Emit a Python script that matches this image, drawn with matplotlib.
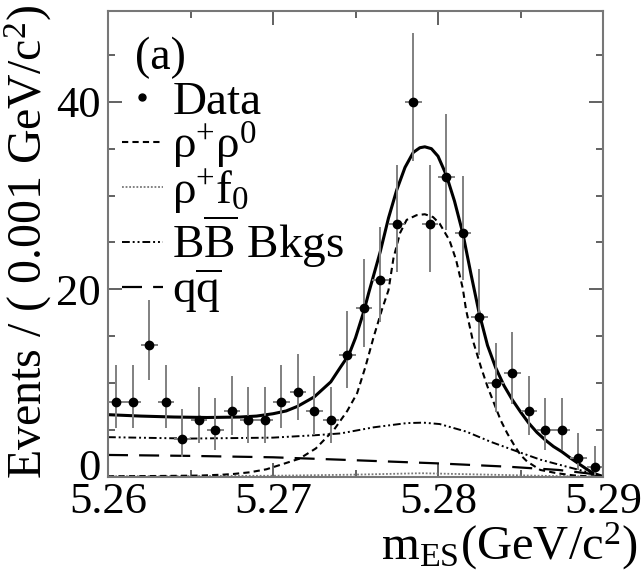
import matplotlib
matplotlib.use("Agg")
import matplotlib.pyplot as plt
import numpy as np
from matplotlib.lines import Line2D
from matplotlib.ticker import MultipleLocator
from matplotlib.transforms import ScaledTranslation

plt.rcParams['font.family'] = ['Liberation Serif', 'DejaVu Serif']
plt.rcParams['mathtext.fontset'] = 'custom'
plt.rcParams['mathtext.rm'] = 'Liberation Serif'
plt.rcParams['mathtext.it'] = 'Liberation Serif:italic'
plt.rcParams['mathtext.bf'] = 'Liberation Serif:bold'

# data histogram, 0.001 GeV bins from 5.26 to 5.29
bin_centers = np.arange(5.2605, 5.29, 0.001)
counts = [8, 8, 14, 8, 4, 6, 5, 7, 6, 6, 8, 9, 7, 6, 13,
          18, 21, 27, 40, 27, 32, 26, 17, 10, 11, 7, 5, 5, 2, 1]
err_lo = [2.77, 2.77, 3.68, 2.77, 1.91, 2.38, 2.16, 2.58, 2.38, 2.38, 2.77, 2.94, 2.58, 2.38, 3.55,
          4.18, 4.52, 5.16, 6.30, 5.16, 5.63, 5.06, 4.06, 3.11, 3.26, 2.58, 2.16, 2.16, 1.29, 0.83]
err_hi = [3.95, 3.95, 4.80, 3.95, 3.16, 3.58, 3.38, 3.77, 3.58, 3.58, 3.95, 4.11, 3.77, 3.58, 4.67,
          5.27, 5.59, 6.22, 7.38, 6.22, 6.70, 6.12, 5.16, 4.26, 4.40, 3.77, 3.38, 3.38, 2.64, 2.30]

# fit components
total_x = [5.2600, 5.2620, 5.2640, 5.2660, 5.2680, 5.2690, 5.2700, 5.2708, 5.2715, 5.2725,
           5.2735, 5.2741, 5.2746, 5.2750, 5.2755, 5.2758, 5.2765, 5.2770, 5.2775, 5.2780,
           5.2785, 5.2789, 5.2792, 5.2796, 5.2800, 5.2805, 5.2810, 5.2815, 5.2820, 5.2825,
           5.2830, 5.2835, 5.2840, 5.2845, 5.2850, 5.2855, 5.2860, 5.2865, 5.2870, 5.2875,
           5.2880, 5.2885, 5.2890, 5.2894, 5.2900]
total_y = [6.6, 6.45, 6.35, 6.3, 6.35, 6.45, 6.7, 7.0, 7.5, 8.5,
           10.1, 11.7, 13.0, 14.8, 17.6, 19.6, 24.0, 27.6, 30.6, 33.0,
           34.6, 35.1, 35.2, 35.0, 34.2, 32.2, 29.4, 26.0, 21.6, 17.4,
           14.0, 11.6, 9.7, 8.2, 6.9, 5.7, 4.7, 3.9, 3.2, 2.65,
           2.0, 1.4, 0.8, 0.35, 0.0]

sig_x = [5.2600, 5.2620, 5.2640, 5.2656, 5.2670, 5.2676, 5.2686, 5.2696, 5.2706, 5.2716,
         5.2726, 5.2737, 5.2745, 5.2751, 5.2756, 5.2761, 5.2766, 5.2770, 5.2773, 5.2777,
         5.2781, 5.2787, 5.2792, 5.2797, 5.2801, 5.2807, 5.2811, 5.2815, 5.2817, 5.2821,
         5.2826, 5.2830, 5.2834, 5.2838, 5.2842, 5.2846, 5.2850, 5.2854, 5.2862, 5.2872,
         5.2882, 5.2890, 5.2900]
sig_y = [0.02, 0.04, 0.07, 0.10, 0.20, 0.27, 0.45, 0.77, 1.33, 1.9,
         3.0, 5.0, 7.0, 8.9, 11.7, 14.9, 17.8, 19.9, 23.3, 26.0,
         27.4, 27.9, 28.0, 27.7, 27.0, 25.2, 23.1, 20.1, 17.8, 14.6,
         11.7, 9.6, 7.8, 6.0, 4.6, 3.4, 2.3, 1.6, 0.7, 0.35,
         0.12, 0.03, 0.0]

f0_x = [5.2600, 5.2700, 5.2750, 5.2790, 5.2830, 5.2870, 5.2900]
f0_y = [0.02, 0.08, 0.2, 0.35, 0.2, 0.05, 0.0]

bb_x = [5.2600, 5.2650, 5.2700, 5.2725, 5.2741, 5.2761, 5.2781, 5.2791, 5.2801, 5.2817,
        5.2832, 5.2846, 5.2862, 5.2878, 5.2890, 5.2900]
bb_y = [4.2, 4.05, 4.15, 4.4, 4.6, 5.25, 5.7, 5.75, 5.6, 4.8,
        3.7, 2.8, 1.8, 1.05, 0.5, 0.0]

qq_x = [5.2600, 5.2650, 5.2700, 5.2740, 5.2800, 5.2842, 5.2873, 5.2890, 5.2897, 5.2900]
qq_y = [2.3, 2.2, 2.05, 1.8, 1.4, 1.05, 0.7, 0.35, 0.18, 0.0]

legend_labels = ['Data', 'ρ$^{+}$ρ$^{0}$', 'ρ$^{+}$f$_{0}$',
                 r'B$\overline{\mathrm{B}}$ Bkgs', r'q$\overline{\mathrm{q}}$']

sig_ls = (0, (3, 2))
f0_ls = (0, (1, 1))
bb_ls = (0, (4, 1.5, 1, 1.5, 1, 1.5))
qq_ls = (0, (9, 5))

fig = plt.figure(figsize=(6.42, 5.75), dpi=100)
ax = fig.add_axes([108 / 642, 1 - 476.5 / 575, 495 / 642, 465.5 / 575])

ax.plot(qq_x, qq_y, color='black', lw=1.6, ls=qq_ls)
ax.plot(bb_x, bb_y, color='black', lw=1.4, ls=bb_ls)
ax.plot(f0_x, f0_y, color='#777777', lw=1.3, ls=f0_ls)
ax.plot(sig_x, sig_y, color='black', lw=1.5, ls=sig_ls)
ax.plot(total_x, total_y, color='black', lw=2.2)

ax.errorbar(bin_centers, counts, yerr=[err_lo, err_hi], xerr=0.0005,
            fmt='o', color='black', ms=6, ecolor='#808080', elinewidth=1.4, capsize=0, zorder=5)

ax.set_xlim(5.26, 5.29)
ax.set_ylim(0, 49.7)
ax.xaxis.set_minor_locator(MultipleLocator(0.005))
ax.yaxis.set_minor_locator(MultipleLocator(5))
ax.set_xticks([5.26, 5.27, 5.28, 5.29])
ax.set_xticklabels(['5.26', '5.27', '5.28', '5.29'])
ax.set_yticks([0, 20, 40])
ax.tick_params(which='both', direction='in', top=True, right=True,
               labelsize=32, width=1.3, color='#555555')
ax.tick_params(which='major', length=10)
ax.tick_params(which='minor', length=5)
ax.tick_params(axis='x', pad=4)
ax.tick_params(axis='y', pad=5)
# lift the "0" label a little, like the original, so it clears 5.26
zero_lbl = ax.yaxis.get_major_ticks()[0].label1
zero_lbl.set_transform(zero_lbl.get_transform() + ScaledTranslation(0, 12 / 100, fig.dpi_scale_trans))
for sp in ax.spines.values():
    sp.set_color('#777777')
    sp.set_linewidth(1.5)

ax.set_ylabel('Events / ( 0.001 GeV/c$^{2}$)', fontsize=34.5)
ax.yaxis.set_label_coords(-0.11, 0.505)
ax.set_xlabel(r'm$_{\mathrm{ES}}$(GeV/c$^{2}$)', fontsize=35, loc='right')
ax.xaxis.set_label_coords(1.07, -0.094)

ax.text(0.055, 0.90, '(a)', transform=ax.transAxes, fontsize=33, va='center', ha='left')

handles = [
    Line2D([], [], ls='none', marker='o', ms=5, color='black'),
    Line2D([], [], color='black', lw=1.5, ls=sig_ls),
    Line2D([], [], color='#777777', lw=1.3, ls=f0_ls),
    Line2D([], [], color='black', lw=1.4, ls=bb_ls),
    Line2D([], [], color='black', lw=1.6, ls=qq_ls),
]
ax.legend(handles, legend_labels, loc='upper left', bbox_to_anchor=(0.028, 0.85), frameon=False,
          fontsize=34, handlelength=0.87, handletextpad=0.2, labelspacing=-0.08,
          borderpad=0, borderaxespad=0)

fig.savefig('out.png', dpi=100)
